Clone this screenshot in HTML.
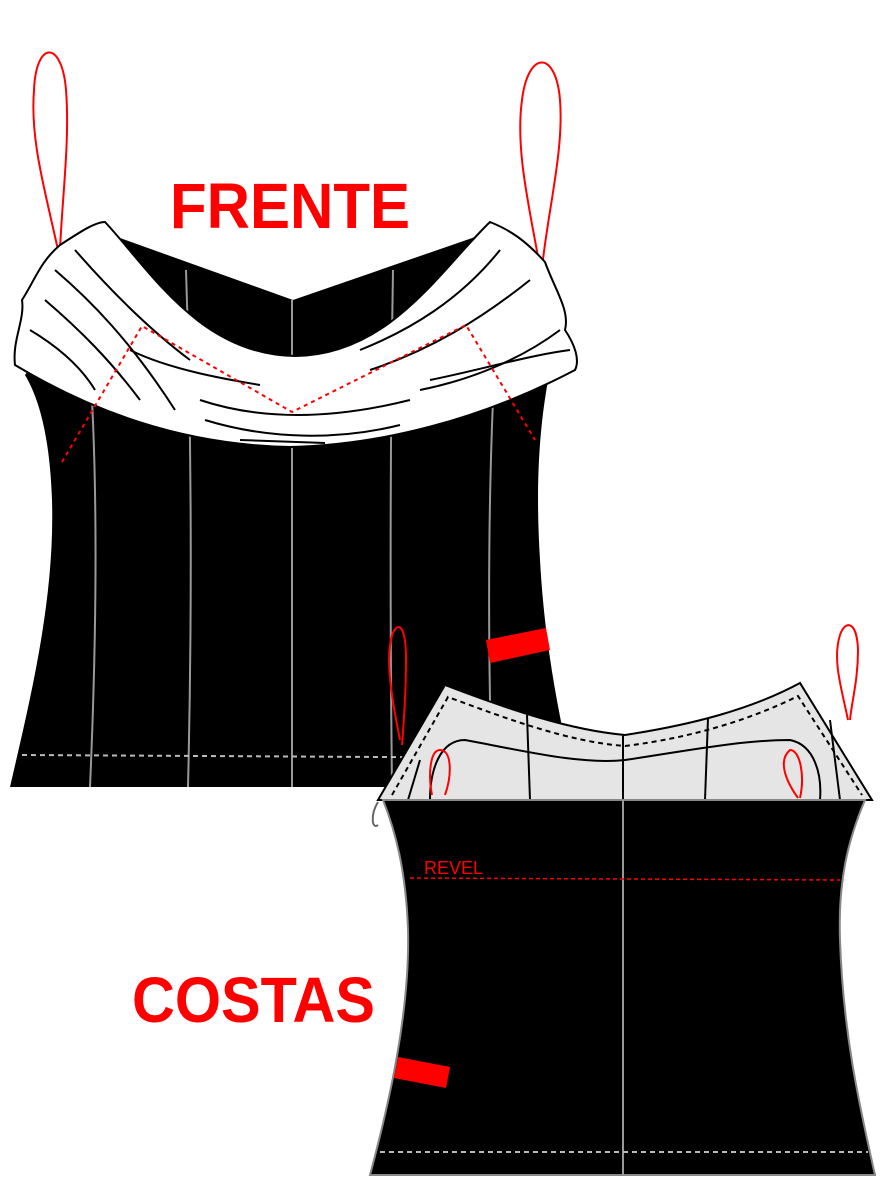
<!DOCTYPE html>
<html><head><meta charset="utf-8"><style>
html,body{margin:0;padding:0;background:#fff;}
svg{display:block;}
text{font-family:"Liberation Sans",sans-serif;font-weight:bold;fill:#f00;}
</style></head><body>
<svg width="887" height="1182" viewBox="0 0 887 1182" xmlns="http://www.w3.org/2000/svg">
<path d="M58,250 C45,190 30,140 34,90 C36,40 62,40 66,90 C70,140 62,200 60,250" fill="none" stroke="#f00" stroke-width="2"/>
<path d="M540,268 C530,210 515,150 522,100 C528,50 556,50 560,100 C564,150 548,210 542,268" fill="none" stroke="#f00" stroke-width="2"/>
<text x="170" y="228" font-size="64" textLength="240" lengthAdjust="spacingAndGlyphs">FRENTE</text>
<path d="M120,238 L293,300 L478,236 L550,370 C540,420 535,480 540,560 C545,650 560,720 575,787 L10,787 C30,700 55,600 52,500 C50,440 40,400 25,375 Z" fill="#000"/>
<g stroke="#999" stroke-width="2" fill="none">
<path d="M92,400 C98,520 96,650 90,787"/>
<path d="M186,270 C192,450 192,620 188,787"/>
<path d="M292,300 L292,787"/>
<path d="M393,270 C390,450 390,620 392,787"/>
<path d="M493,400 C488,520 488,650 492,787"/>
</g>
<path d="M22,755 L560,758" stroke="#bbb" stroke-width="2" stroke-dasharray="5,4"/>
<path d="M486,640 L546,628 L550,650 L490,663 Z" fill="#f00"/>
<path d="M60,245 C80,232 95,222 105,222 C150,270 200,355 295,356 C390,355 440,270 490,222 C510,230 525,240 545,262 C555,290 570,310 565,330 C575,345 580,360 575,370 C480,420 380,445 290,447 C180,445 90,410 15,365 C12,340 25,320 22,300 C35,280 40,262 60,245 Z" fill="#fff" stroke="#000" stroke-width="2"/>
<g stroke="#000" stroke-width="2" fill="none">
<path d="M55,270 C90,300 130,340 175,410"/>
<path d="M45,300 C80,330 110,360 140,400"/>
<path d="M30,330 C55,345 80,365 95,390"/>
<path d="M75,250 C110,290 150,330 190,360"/>
<path d="M200,400 C260,420 330,420 410,400"/>
<path d="M205,420 C270,440 340,440 400,425"/>
<path d="M240,440 L325,443"/>
<path d="M360,350 C410,330 460,300 500,250"/>
<path d="M370,370 C430,350 480,320 530,280"/>
<path d="M420,390 C470,380 520,360 560,330"/>
<path d="M430,380 C480,370 530,355 570,350"/>
<path d="M130,350 C170,370 230,380 260,385"/>
</g>
<path d="M62,462 L142,326 L292,412 L466,325 L535,440" fill="none" stroke="#f00" stroke-width="2" stroke-dasharray="4,4"/>
<path d="M400,740 C392,700 385,660 392,635 C398,620 406,625 406,660 C406,690 404,720 402,745" fill="none" stroke="#f00" stroke-width="2"/>
<path d="M848,720 C842,690 832,660 840,635 C845,620 857,620 858,650 C858,680 852,700 850,720" fill="none" stroke="#f00" stroke-width="2"/>
<path d="M385,800 L378,800 L445,685 C510,710 570,730 625,735 C690,725 750,710 800,683 L872,800 Z" fill="#e5e5e5" stroke="#000" stroke-width="2"/>
<path d="M392,795 L448,697 C510,720 570,742 625,746 C690,738 750,720 798,696 L862,795" fill="none" stroke="#000" stroke-width="2" stroke-dasharray="5,4"/>
<g stroke="#000" stroke-width="2" fill="none">
<path d="M430,800 C430,770 440,740 465,740 C520,750 580,765 625,760 C680,752 740,740 790,740 C815,745 822,775 820,800"/>
<path d="M527,715 L530,800"/>
<path d="M623,735 L623,800"/>
<path d="M708,718 L705,800"/>
<path d="M408,800 L420,760"/>
<path d="M840,800 L830,720"/>
</g>
<path d="M432,795 C428,775 430,750 440,750 C452,750 452,775 445,795" fill="none" stroke="#f00" stroke-width="2"/>
<path d="M798,798 C785,780 778,760 790,750 C800,750 805,775 800,798" fill="none" stroke="#f00" stroke-width="2"/>
<path d="M383,800 L865,800 C848,840 838,880 840,940 C843,1030 858,1100 875,1175 L370,1175 C390,1100 410,1010 408,930 C406,870 395,830 383,800 Z" fill="#000" stroke="#888" stroke-width="2"/>
<path d="M378,802 C370,815 372,830 378,825" fill="none" stroke="#666" stroke-width="2"/>
<path d="M623,800 L623,1175" stroke="#999" stroke-width="2"/>
<path d="M410,878 L840,880" stroke="#f00" stroke-width="1.5" stroke-dasharray="4,3"/>
<text x="424" y="874" font-size="18" style="font-weight:normal">REVEL</text>
<path d="M380,1152 L868,1152" stroke="#bbb" stroke-width="2" stroke-dasharray="5,4"/>
<path d="M398,1057 L450,1067 L446,1088 L394,1078 Z" fill="#f00"/>
<text x="132" y="1022" font-size="64" textLength="243" lengthAdjust="spacingAndGlyphs">COSTAS</text>
</svg>
</body></html>
